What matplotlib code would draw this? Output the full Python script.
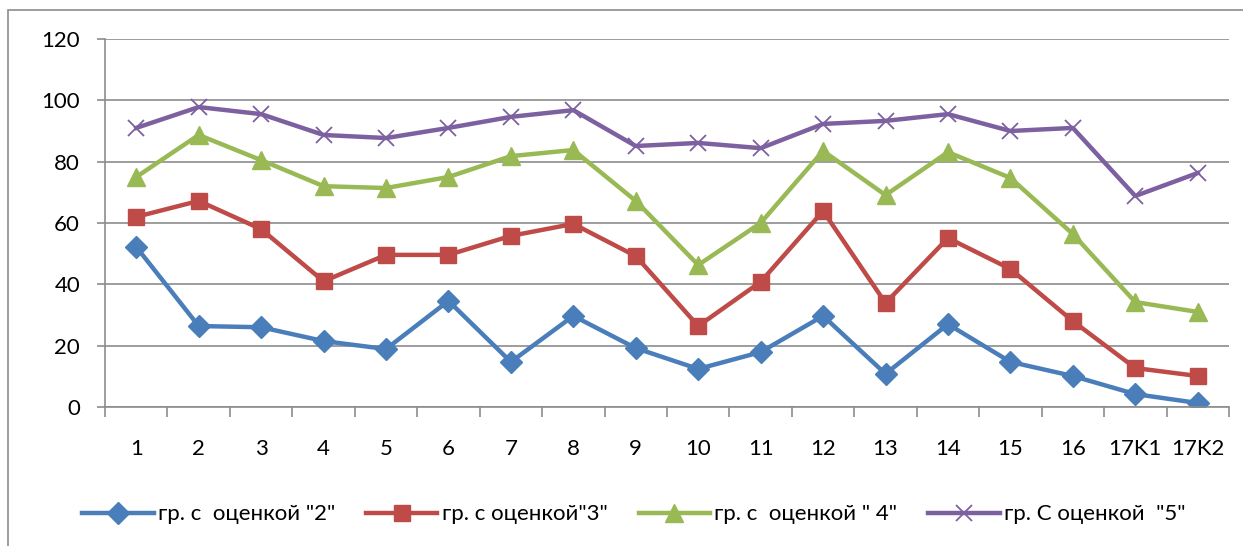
import matplotlib.pyplot as plt
from matplotlib.patches import Rectangle
from matplotlib.ticker import FixedLocator

plt.rcParams['font.family'] = ['Lato', 'DejaVu Sans']

categories = ['1', '2', '3', '4', '5', '6', '7', '8', '9', '10', '11', '12',
              '13', '14', '15', '16', '17K1', '17K2']
grade2 = [52.2, 26.4, 26.0, 21.5, 18.9, 34.6, 14.7, 29.7, 19.2, 12.4, 17.9,
          29.7, 10.8, 27.0, 14.7, 10.1, 4.2, 1.3]
grade3 = [62.0, 67.2, 58.0, 41.0, 49.6, 49.6, 55.8, 59.7, 49.2, 26.4, 40.8,
          63.9, 33.9, 55.1, 45.0, 28.0, 12.7, 10.1]
grade4 = [75.0, 88.7, 80.5, 72.0, 71.4, 75.0, 81.8, 83.8, 67.2, 46.3, 60.0,
          83.5, 69.1, 83.1, 74.7, 56.4, 34.2, 31.0]
grade5 = [91.0, 97.8, 95.5, 88.7, 87.7, 91.0, 94.6, 96.8, 85.1, 86.1, 84.4,
          92.3, 93.3, 95.5, 90.0, 91.0, 68.8, 76.3]
labels = ['гр. с  оценкой "2"', 'гр. с оценкой"3"', 'гр. с  оценкой " 4"',
          'гр. С оценкой  "5"']

fig = plt.figure(figsize=(12.43, 5.46), dpi=100)
ax = fig.add_axes([0.0845, 0.2546, 0.9042, 0.674])

x = list(range(1, len(categories) + 1))
ax.plot(x, grade2, color='#4A7EBB', lw=3.2, marker='D', ms=11, label=labels[0])
ax.plot(x, grade3, color='#BE4B48', lw=3.2, marker='s', ms=12, label=labels[1])
ax.plot(x, grade4, color='#98B954', lw=3.2, marker='^', ms=13, label=labels[2])
ax.plot(x, grade5, color='#7D60A0', lw=3.2, marker='x', ms=12, mew=1.3,
        label=labels[3])

ax.set_xlim(0.5, len(categories) + 0.5)
ax.set_ylim(0, 120)
ax.set_yticks(range(0, 121, 20))
ax.yaxis.grid(True, color='#8C8C8C', lw=1.2)
ax.set_axisbelow(True)

# labels at category centres, tick marks at boundaries
ax.set_xticks(x)
ax.set_xticklabels(categories)
ax.xaxis.set_minor_locator(FixedLocator([i + 0.5 for i in range(len(categories) + 1)]))
ax.tick_params(axis='x', which='major', length=0, pad=23, labelsize=16)
ax.tick_params(axis='x', which='minor', length=7, width=1.2, color='#8C8C8C')
ax.tick_params(axis='y', length=6, width=1.2, color='#8C8C8C', labelsize=16,
               pad=12)

for s in ['top', 'right']:
    ax.spines[s].set_visible(False)
for s in ['left', 'bottom']:
    ax.spines[s].set_color('#8C8C8C')
    ax.spines[s].set_linewidth(1.2)

fig.legend(loc='center', bbox_to_anchor=(0.51, 0.058), ncol=4, frameon=False,
           fontsize=16, handlelength=3.2, columnspacing=1.4, handletextpad=0.2)

# outer chart frame
fig.patches.append(Rectangle((8 / 1243, -0.1), 1.2, (536 / 546) + 0.1,
                             transform=fig.transFigure, fill=False,
                             edgecolor='#8C8C8C', lw=1.2))

fig.savefig('out.png', dpi=100, facecolor='white')
